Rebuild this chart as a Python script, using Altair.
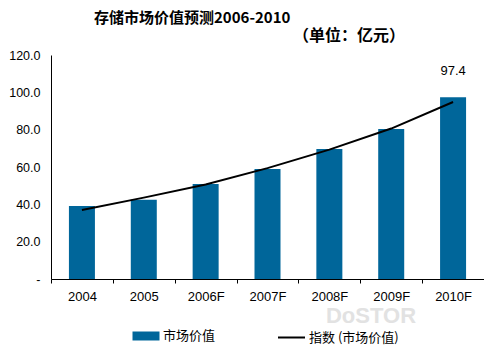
import altair as alt
import pandas as pd

years = ["2004", "2005", "2006F", "2007F", "2008F", "2009F", "2010F"]
values = [39.1, 42.4, 50.9, 58.9, 69.6, 80.3, 97.4]
trend = [37.0, 43.6, 50.6, 59.4, 69.3, 80.6, 94.8]
y_ticks = [0, 20, 40, 60, 80, 100, 120]

title_text = "存储市场价值预测2006-2010"
subtitle_text = "（单位：亿元）"
bar_name = "市场价值"
line_name = "指数 (市场价值)"
watermark = "DoSTOR"

df = pd.DataFrame({"year": years, "value": values, "trend": trend,
                   "sbar": bar_name, "sline": line_name})

W, H = 433, 224
CJK = "Noto Sans CJK SC"
LAT = "Liberation Sans"

x_scale = alt.Scale(paddingInner=0, paddingOuter=0)
x_axis = alt.Axis(title=None, labelAngle=0, tickBand="extent", tickSize=4,
                  domainColor="black", tickColor="black", labelColor="black",
                  labelFont=LAT, labelFontSize=13, labelPadding=7, grid=False)
y_scale = alt.Scale(domain=[0, 120], nice=False)
y_axis = alt.Axis(title=None, values=y_ticks, ticks=False, grid=False, labelOverlap=False,
                  domainColor="black", labelColor="black", labelFont=LAT,
                  labelFontSize=12.5, labelPadding=11,
                  labelExpr="datum.value == 0 ? '-' : format(datum.value, '.1f')")


def X():
    return alt.X("year:N", sort=years, scale=x_scale, axis=x_axis)


bars = alt.Chart(df).mark_bar(width=26).encode(
    x=X(),
    y=alt.Y("value:Q", scale=y_scale, axis=y_axis),
    fill=alt.Fill("sbar:N", scale=alt.Scale(domain=[bar_name], range=["#00669a"]),
                  legend=alt.Legend(title=None, orient="none", legendX=86, legendY=272,
                                    symbolType="M-1.5,-0.5H1.5V0.5H-1.5Z", symbolSize=324,
                                    symbolStrokeWidth=0, labelFont=CJK, labelFontSize=13,
                                    labelColor="black", labelOffset=8)),
)

line = alt.Chart(df).mark_line(strokeWidth=2).encode(
    x=X(),
    y=alt.Y("trend:Q", scale=y_scale, axis=y_axis),
    stroke=alt.Stroke("sline:N", scale=alt.Scale(domain=[line_name], range=["black"]),
                      legend=alt.Legend(title=None, orient="none", legendX=226, legendY=268,
                                        symbolType="stroke", symbolSize=729,
                                        symbolStrokeWidth=2, labelFont=CJK, labelFontSize=13,
                                        labelColor="black", labelOffset=3)),
)

label = alt.Chart(df[df["year"] == "2010F"]).mark_text(
    font=LAT, fontSize=13, color="black", baseline="bottom", dy=-19
).encode(
    x=X(),
    y=alt.Y("value:Q", scale=y_scale, axis=y_axis),
    text=alt.Text("value:Q", format=".1f"),
)

ttl = alt.Chart(pd.DataFrame({"t": [title_text]})).mark_text(
    font=CJK, fontSize=15, fontWeight="bold", color="black", align="left", baseline="middle"
).encode(x=alt.value(43), y=alt.value(-37), text="t:N")

sub = alt.Chart(pd.DataFrame({"t": [subtitle_text]})).mark_text(
    font=CJK, fontSize=16, fontWeight="bold", color="black", align="left", baseline="middle"
).encode(x=alt.value(242), y=alt.value(-19), text="t:N")

wm = alt.Chart(pd.DataFrame({"t": [watermark]})).mark_text(
    font=LAT, fontSize=22, fontWeight="bold", color="#e2e2e2", align="center", baseline="middle"
).encode(x=alt.value(320), y=alt.value(261), text="t:N")

chart = alt.layer(wm, bars, line, label, ttl, sub).properties(
    width=W, height=H,
    autosize=alt.AutoSizeParams(type="none"),
    padding={"left": 43, "top": 47, "right": 0, "bottom": 68},
).resolve_scale(fill="independent", stroke="independent").configure_view(stroke=None)

chart.save("out.html", embed_options={"renderer": "svg", "actions": False})
